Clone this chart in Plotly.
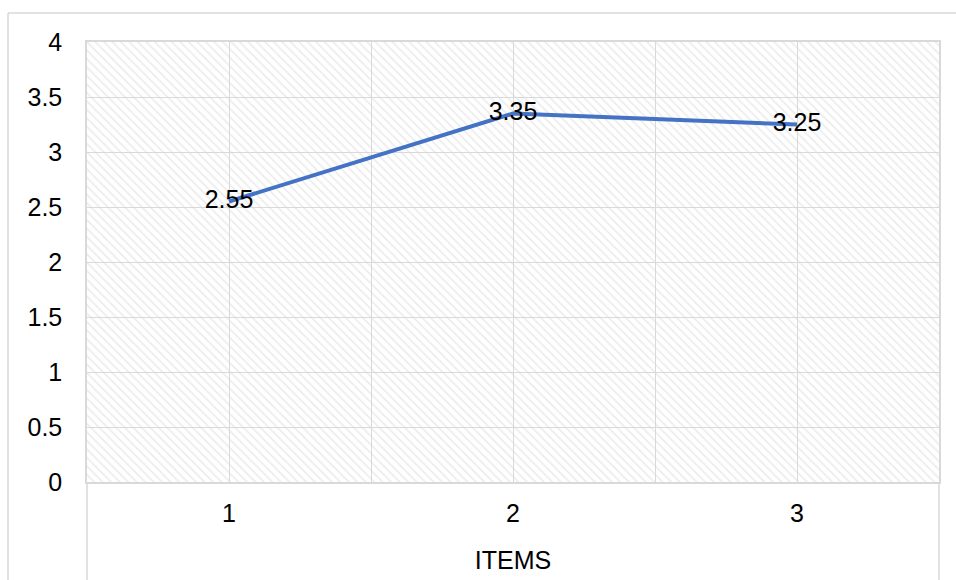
import plotly.graph_objects as go

# Series data
items = [1, 2, 3]
scores = [2.55, 3.35, 3.25]
score_labels = ["2.55", "3.35", "3.25"]
y_ticks = [0, 0.5, 1, 1.5, 2, 2.5, 3, 3.5, 4]
y_tick_text = ["0", "0.5", "1", "1.5", "2", "2.5", "3", "3.5", "4"]
x_range = [0.5, 3.5]
y_range = [0, 4]

W, H = 956, 580
ML, MR, MT, MB = 87, 17, 42, 98
PW, PH = W - ML - MR, H - MT - MB

GRID = "#d9d9d9"
FONT = "Liberation Sans, Arial, sans-serif"

fig = go.Figure()

# Hatched plot-area background: one full-size bar under everything else
fig.add_trace(go.Bar(
    x=[(x_range[0] + x_range[1]) / 2], y=[y_range[1] - y_range[0]],
    base=[y_range[0]], width=[x_range[1] - x_range[0]],
    marker=dict(color="rgba(0,0,0,0)", line=dict(width=0),
                pattern=dict(shape="\\", fgcolor="#d9d9d9", bgcolor="rgba(0,0,0,0)",
                             size=6, solidity=0.28)),
    hoverinfo="skip", showlegend=False,
))

# Main line with value labels centered on the points
fig.add_trace(go.Scatter(
    x=items, y=scores,
    mode="lines+text",
    line=dict(color="#4472C4", width=4),
    text=score_labels,
    textposition="middle center",
    textfont=dict(family=FONT, size=25, color="#000000"),
    showlegend=False,
))


def px_x(px):
    return (px - ML) / PW


def px_y(py):
    return (H - MB - py) / PH


shapes = [
    # outer chart frame (left and top edges)
    dict(type="line", xref="paper", yref="paper",
         x0=px_x(8), x1=px_x(8), y0=px_y(13), y1=px_y(H + 5),
         line=dict(color=GRID, width=1.5)),
    dict(type="line", xref="paper", yref="paper",
         x0=px_x(8), x1=px_x(W + 5), y0=px_y(13), y1=px_y(13),
         line=dict(color=GRID, width=1.5)),
    # category-axis box sides below the plot area
    dict(type="line", xref="paper", yref="paper",
         x0=0, x1=0, y0=0, y1=px_y(H + 5),
         line=dict(color=GRID, width=1.5)),
    dict(type="line", xref="paper", yref="paper",
         x0=1, x1=1, y0=0, y1=px_y(H + 5),
         line=dict(color=GRID, width=1.5)),
]

fig.update_layout(
    width=W, height=H,
    margin=dict(l=ML, r=MR, t=MT, b=MB, autoexpand=False),
    paper_bgcolor="white",
    plot_bgcolor="white",
    font=dict(family=FONT, size=25, color="#000000"),
    shapes=shapes,
    bargap=0,
    xaxis=dict(
        range=x_range,
        tickvals=items,
        ticktext=[str(i) for i in items],
        showgrid=True, gridcolor=GRID, gridwidth=1,
        minor=dict(tickvals=[1.5, 2.5], showgrid=True, gridcolor=GRID, gridwidth=1),
        showline=True, linecolor=GRID, linewidth=1.5, mirror=True,
        ticks="", ticklabelstandoff=8,
        tickfont=dict(family=FONT, size=25),
        zeroline=False, automargin=False,
        title=dict(text="ITEMS", standoff=26, font=dict(family=FONT, size=25)),
    ),
    yaxis=dict(
        range=y_range,
        tickvals=y_ticks,
        ticktext=y_tick_text,
        showgrid=True, gridcolor=GRID, gridwidth=1,
        showline=True, linecolor=GRID, linewidth=1.5, mirror=True,
        ticks="", ticklabelstandoff=18,
        tickfont=dict(family=FONT, size=25),
        zeroline=False, automargin=False,
    ),
)

fig.write_html("out.html")
